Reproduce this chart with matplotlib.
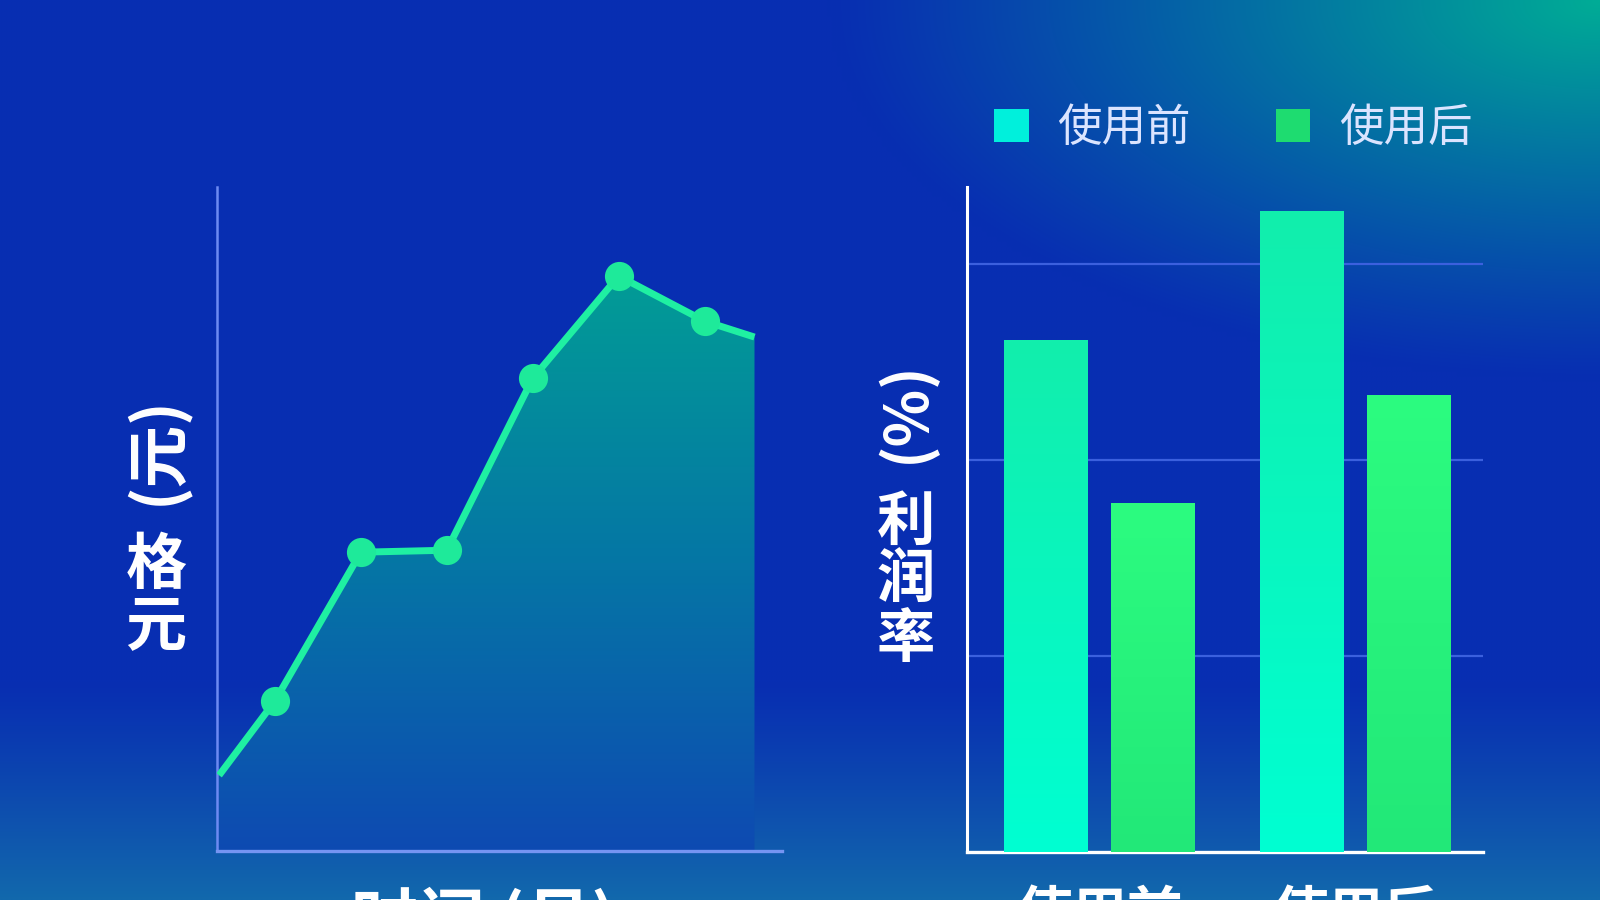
import numpy as np
import matplotlib
matplotlib.use("Agg")
import matplotlib.pyplot as plt
from matplotlib.patches import Patch
from matplotlib.colors import LinearSegmentedColormap

plt.rcParams['font.family'] = ['Noto Sans CJK SC', 'DejaVu Sans']

# ---------------- data ----------------
line_x = [0.35, 1, 2, 3, 4, 5, 6, 6.58]          # months (ends without markers)
line_y = [11.4, 22.6, 45.0, 45.3, 71.2, 86.6, 79.8, 77.4]
marker_x = [1, 2, 3, 4, 5, 6]
marker_y = [22.6, 45.0, 45.3, 71.2, 86.6, 79.8]

groups = ["使用前", "使用后"]
series_names = ["使用前", "使用后"]
before_vals = [26.1, 32.7]
after_vals = [17.8, 23.3]
grid_ticks = [10, 20, 30]

left_ylabel_rot = "(元)"
left_ylabel_chars = ["格", "元"]
right_ylabel_rot = "(%)"
right_ylabel_chars = ["利", "润", "率"]
left_xlabel = "时间 (月)"

W, H = 1600, 900
fig = plt.figure(figsize=(16, 9), dpi=100)

def fx(px):
    return px / W

def fy(py):
    return 1 - py / H

# ---------------- background ----------------
bh, bw = 180, 320
yy, xx = np.mgrid[0:bh, 0:bw]
t = yy / (bh - 1)
s = xx / (bw - 1)
base = np.array([8, 46, 178], float) / 255
bottom = np.array([18, 104, 172], float) / 255
teal = np.array([0, 172, 150], float) / 255
img = np.ones((bh, bw, 3)) * base
wb = np.clip((t - 0.76) / 0.24, 0, 1) ** 1.1
img = img * (1 - wb[..., None]) + bottom * wb[..., None]
d = np.sqrt(((s - 1.0) / 0.48) ** 2 + (t / 0.42) ** 2)
wt = np.clip(1 - d, 0, 1) ** 1.1
img = img * (1 - wt[..., None]) + teal * wt[..., None]
bg = fig.add_axes([0, 0, 1, 1], zorder=-10)
bg.imshow(img, aspect='auto', extent=[0, 1, 0, 1], interpolation='bilinear')
bg.set_axis_off()

# ---------------- left line chart ----------------
axL = fig.add_axes([fx(217), fy(851), fx(782 - 217), (851 - 187) / H])
axL.set_facecolor('none')
for sp in ['top', 'right']:
    axL.spines[sp].set_visible(False)
axL.spines['left'].set_color('#6d8af2')
axL.spines['left'].set_linewidth(1.8)
axL.spines['bottom'].set_color('#7594f2')
axL.spines['bottom'].set_linewidth(2.4)
axL.set_xticks([])
axL.set_yticks([])

poly = axL.fill_between(line_x, line_y, 0, color='none', lw=0)
fill_cmap = LinearSegmentedColormap.from_list(
    'fill', [(0.0, (14/255, 74/255, 178/255)),
             (0.5, (5/255, 118/255, 165/255)),
             (1.0, (2/255, 156/255, 150/255))])
grad = np.linspace(0, 1, 256).reshape(-1, 1)
im = axL.imshow(grad, cmap=fill_cmap, origin='lower', aspect='auto',
                extent=[min(line_x), max(line_x), 0, max(line_y)], zorder=1)
im.set_clip_path(poly.get_paths()[0], transform=axL.transData)
axL.set_xlim(0.326, 6.9)
axL.set_ylim(0, 100)

axL.plot(line_x, line_y, color='#1ff0a2', lw=5.0, solid_capstyle='butt',
         solid_joinstyle='round', zorder=3)
axL.plot(marker_x, marker_y, 'o', color='#1eea9a', ms=21, mew=0, zorder=4)
axL.set_xlabel(left_xlabel, color='white', fontsize=48, fontweight='bold', labelpad=26)
axL.xaxis.label.set_x((484 - 217) / 565)

# ---------------- right bar chart ----------------
axR = fig.add_axes([fx(967), fy(852), fx(1483 - 967), (852 - 187) / H])
axR.set_facecolor('none')
xpos = np.arange(len(groups))
bw_ = 0.328
off = 0.209
for sp in ['top', 'right']:
    axR.spines[sp].set_visible(False)
axR.spines['left'].set_color('white')
axR.spines['bottom'].set_color('white')
axR.spines['left'].set_linewidth(2.2)
axR.spines['bottom'].set_linewidth(2.4)
axR.set_yticks(grid_ticks)
axR.yaxis.grid(True, color='#3b60de', lw=1.6)
axR.set_axisbelow(True)
axR.tick_params(axis='y', length=0, labelleft=False)

b1 = axR.bar(xpos - off, before_vals, bw_, color='#05f8c8', lw=0, zorder=2)
b2 = axR.bar(xpos + off, after_vals, bw_, color='#2af07e', lw=0, zorder=2)

cm_before = LinearSegmentedColormap.from_list('b', ['#00ffd2', '#12eeac'])
cm_after = LinearSegmentedColormap.from_list('a', ['#22e878', '#2cfc80'])
for cont, cm in [(b1, cm_before), (b2, cm_after)]:
    for p in cont.patches:
        x0, w0, h0 = p.get_x(), p.get_width(), p.get_height()
        g = axR.imshow(grad, cmap=cm, origin='lower', aspect='auto',
                       extent=[x0, x0 + w0, 0, h0], zorder=3)
        g.set_clip_path(p)

axR.set_xlim(-0.516, 1.5)
axR.set_ylim(0, 33.9)
axR.set_xticks(xpos)
axR.set_xticklabels(groups, color='white', fontsize=40, fontweight='bold')
axR.tick_params(axis='x', length=0, pad=26)

# legend
handles = [Patch(facecolor='#00f0dc', edgecolor='none', label=series_names[0]),
           Patch(facecolor='#1edc70', edgecolor='none', label=series_names[1])]
fig.legend(handles=handles, loc='center left', bbox_to_anchor=(fx(994), fy(128)),
           ncol=2, frameon=False, fontsize=32, labelcolor='#dbe4ff',
           handlelength=0.78, handleheight=0.78, handletextpad=0.65,
           columnspacing=1.9, borderpad=0, borderaxespad=0)

# ---------------- y labels ----------------
fig.text(fx(156), fy(450), left_ylabel_rot, rotation=90, color='white',
         fontsize=45, fontweight='bold', ha='center', va='center')
for ch, py in zip(left_ylabel_chars, [566, 627]):
    fig.text(fx(156), fy(py), ch, color='white', fontsize=44, fontweight='bold',
             ha='center', va='center')

fig.text(fx(906), fy(412), right_ylabel_rot, rotation=90, color='white',
         fontsize=43, fontweight='bold', ha='center', va='center')
for ch, py in zip(right_ylabel_chars, [523, 581, 640]):
    fig.text(fx(906), fy(py), ch, color='white', fontsize=42, fontweight='bold',
             ha='center', va='center')

fig.savefig('out.png', dpi=100)
